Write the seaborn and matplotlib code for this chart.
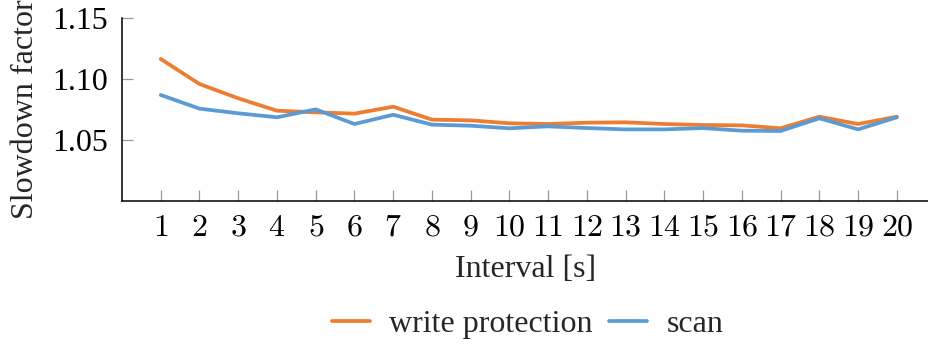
import numpy as np
import pandas as pd
import seaborn as sns
import matplotlib.pyplot as plt

intervals = list(range(1, 21))
write_protection = [1.1164, 1.0959, 1.0842, 1.0740, 1.0727, 1.0716, 1.0773, 1.0667, 1.0661, 1.0637,
                    1.0631, 1.0642, 1.0645, 1.0631, 1.0623, 1.0620, 1.0596, 1.0691, 1.0631, 1.0691]
scan = [1.0869, 1.0757, 1.0719, 1.0686, 1.0751, 1.0631, 1.0707, 1.0626, 1.0617, 1.0596,
        1.0612, 1.0598, 1.0587, 1.0587, 1.0598, 1.0576, 1.0574, 1.0678, 1.0587, 1.0686]
series_names = ["write protection", "scan"]
colors = ["#ED7D31", "#5B9BD5"]
y_ticks = [1.05, 1.10, 1.15]

df = pd.DataFrame({
    "Interval": intervals * 2,
    "Slowdown": write_protection + scan,
    "Series": [series_names[0]] * 20 + [series_names[1]] * 20,
})

sns.set_theme(style="ticks")
plt.rcParams["font.family"] = ["Liberation Serif", "DejaVu Serif"]
plt.rcParams["mathtext.fontset"] = "cm"

fig = plt.figure(figsize=(9.29, 3.44), dpi=100)
ax = fig.add_axes([122 / 929, 143 / 344, 807 / 929, 183 / 344])

sns.lineplot(data=df, x="Interval", y="Slowdown", hue="Series", palette=colors,
             linewidth=2.7, ax=ax, legend=False)

ax.set_xlim(0, 20.83)
ax.set_ylim(1.0, 1.15)
ax.set_xticks(intervals)
ax.set_xticklabels([f"${i}$" for i in intervals])
ax.set_yticks(y_ticks)
ax.set_yticklabels([f"{v:.2f}" for v in y_ticks])

sns.despine(ax=ax)
for s in ["left", "bottom"]:
    ax.spines[s].set_linewidth(1.1)
    ax.spines[s].set_color("black")

ax.tick_params(axis="both", direction="in", length=8, width=0.9, color="#999999",
               labelsize=23, labelcolor="black")
ax.tick_params(axis="x", pad=9)
ax.tick_params(axis="y", pad=10)

ax.set_xlabel("Interval [s]", fontsize=23, labelpad=9)
ax.set_ylabel("Slowdown factor", fontsize=23, labelpad=9)

# Legende unter dem Diagramm
handles = [plt.Line2D([], [], color=c, linewidth=2.7) for c in colors]
fig.legend(handles, series_names, loc="center", bbox_to_anchor=(0.568, 0.058), ncol=2,
           frameon=False, fontsize=23, handlelength=1.2, handletextpad=0.6, columnspacing=0.5)

fig.savefig("out.png", dpi=100)
